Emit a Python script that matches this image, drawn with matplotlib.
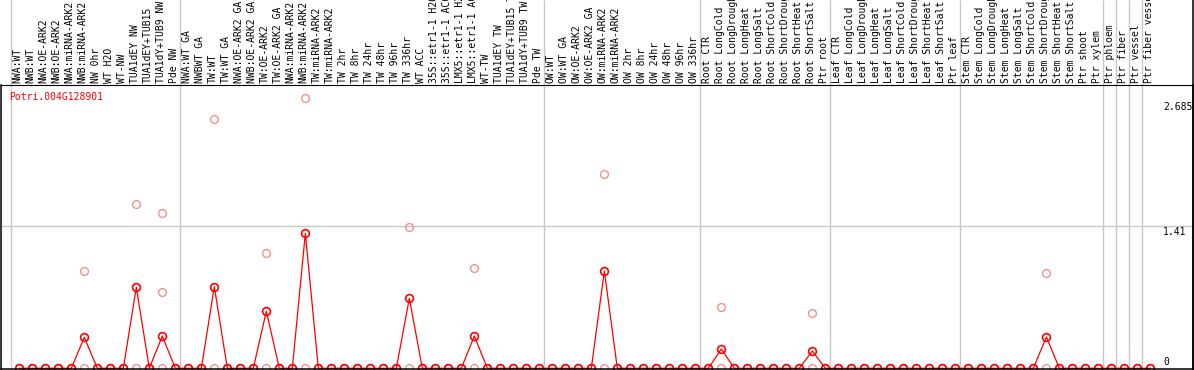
import numpy as np
import matplotlib.pyplot as plt
from matplotlib.transforms import blended_transform_factory

plt.rcParams['font.family'] = ['DejaVu Sans Mono']

# sample labels, one per column
samples = [
    "NWA:WT", "NWB:WT", "NWA:OE-ARK2", "NWB:OE-ARK2", "NWA:miRNA-ARK2", "NWB:miRNA-ARK2",
    "NW 0hr", "WT H2O", "WT-NW", "TUA1dEY NW", "TUA1dEY+TUB15", "TUA1dY+TUB9 NW", "Pde NW",
    "NWA:WT GA", "NWBWT GA", "TW:WT", "TW:WT GA", "NWA:OE-ARK2 GA", "NWB:OE-ARK2 GA",
    "TW:OE-ARK2", "TW:OE-ARK2 GA", "NWA:miRNA-ARK2", "NWB:miRNA-ARK2", "TW:miRNA-ARK2",
    "TW:miRNA-ARK2", "TW 2hr", "TW 8hr", "TW 24hr", "TW 48hr", "TW 96hr", "TW 336hr",
    "WT ACC", "35S::etr1-1 H2O", "35S::etr1-1 ACC", "LMX5::etr1-1 H2O", "LMX5::etr1-1 ACC",
    "WT-TW", "TUA1dEY TW", "TUA1dEY+TUB15 TW", "TUA1dY+TUB9 TW", "Pde TW",
    "OW:WT", "OW:WT GA", "OW:OE-ARK2", "OW:OE-ARK2 GA", "OW:miRNA-ARK2", "OW:miRNA-ARK2",
    "OW 2hr", "OW 8hr", "OW 24hr", "OW 48hr", "OW 96hr", "OW 336hr",
    "Root CTR", "Root LongCold", "Root LongDrought", "Root LongHeat", "Root LongSalt",
    "Root ShortCold", "Root ShortDrought", "Root ShortHeat", "Root ShortSalt", "Ptr root",
    "Leaf CTR", "Leaf LongCold", "Leaf LongDrought", "Leaf LongHeat", "Leaf LongSalt",
    "Leaf ShortCold", "Leaf ShortDrought", "Leaf ShortHeat", "Leaf ShortSalt", "Ptr leaf",
    "Stem CTR", "Stem LongCold", "Stem LongDrought", "Stem LongHeat", "Stem LongSalt",
    "Stem ShortCold", "Stem ShortDrought", "Stem ShortHeat", "Stem ShortSalt", "Ptr shoot",
    "Ptr xylem", "Ptr phloem", "Ptr fiber", "Ptr vessel", "Ptr fiber vessel",
]
group_sizes = [13, 28, 12, 10, 10, 11, 1, 1, 1, 1]

# mean expression per column (only nonzero ones listed)
mean_idx = [5, 9, 11, 15, 19, 22, 30, 35, 45, 54, 61, 79]
mean_val = [0.308, 0.805, 0.321, 0.811, 0.567, 1.3425, 0.696, 0.321, 0.968, 0.192, 0.172, 0.311]

# individual replicate values that are not zero
rep_idx = [5, 9, 11, 11, 15, 19, 22, 30, 35, 45, 54, 61, 79]
rep_val = [0.968, 1.631, 1.541, 0.756, 2.479, 1.150, 2.685, 1.402, 0.994, 1.932, 0.610, 0.550, 0.945]

gene = "Potri.004G128901"
y_ticks = [0, 1.41, 2.685]
tick_labels = ["0", "1.41", "2.685"]

n = len(samples)
x = np.arange(n)
means = np.zeros(n)
means[mean_idx] = mean_val

fig = plt.figure(figsize=(11.94, 3.70), dpi=100)
ax = fig.add_axes([1 / 1194, 1 - 369 / 370, 1192 / 1194, 284 / 370])
ax.set_xlim(-1.408, 90.28)
ax.set_ylim(-0.007, 2.817)
ax.set_xticks([])
ax.set_yticks([])
for s in ax.spines.values():
    s.set_linewidth(1.1)
ax.spines['top'].set_linewidth(0.8)

xfig = blended_transform_factory(ax.transData, fig.transFigure)

# group separators run through the header too
starts = np.cumsum([0] + group_sizes[:-1])
seps = starts - 0.64
ax.vlines(seps, 0, 1, transform=xfig, colors='#c8c8c8', lw=1.0, clip_on=False, zorder=0)
ax.axhline(y_ticks[1], color='#c8c8c8', lw=1.0, zorder=0)
fig.add_artist(plt.Line2D([1192.5 / 1194] * 2, [0, 1], color='black', lw=1.1))

# column labels (long ones run off the top edge, as in the original)
for i, lab in enumerate(samples):
    ax.text(i - 0.12, 1 - 83 / 370, lab, transform=xfig, rotation=90, ha='center', va='bottom',
            fontsize=7.0, clip_on=False)

# replicates (light) then the mean line
ax.plot(x, np.zeros(n), ls='none', marker='o', ms=5.6, mfc='none', mec='#ef9090', mew=1.0)
ax.plot(rep_idx, rep_val, ls='none', marker='o', ms=5.6, mfc='none', mec='#ef9090', mew=1.0)
ax.plot(x, means, color='red', lw=0.9, marker='o', ms=5.6, mfc='none', mec='red', mew=1.2)

ax.text(8 / 1192, 0.958, gene, transform=ax.transAxes, color='red', fontsize=7.0, va='center')

offsets = [6, -6, -8.7]
for val, lab, dy in zip(y_ticks, tick_labels, offsets):
    ax.annotate(lab, xy=((1163 - 1) / 1192, val), xycoords=('axes fraction', 'data'),
                xytext=(0, dy), textcoords='offset pixels', va='center', ha='left', fontsize=7.0)

plt.savefig("out.png", dpi=100)
plt.close()
